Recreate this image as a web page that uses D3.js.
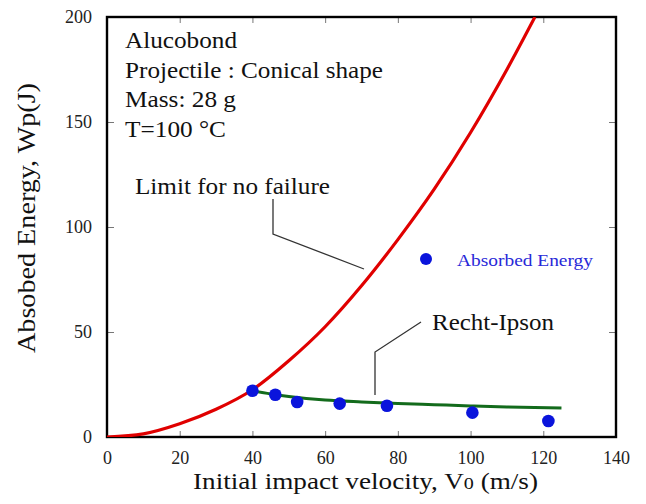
<!DOCTYPE html>
<html>
<head>
<meta charset="utf-8">
<script src="https://cdn.jsdelivr.net/npm/d3@7"></script>
<style>
  html, body { margin: 0; padding: 0; background: #fff; }
  svg { display: block; }
  svg text { font-family: "Liberation Serif", "Times New Roman", serif; }
</style>
</head>
<body>
<svg id="chart" width="646" height="504"></svg>
<script>
// Limit for no failure (red curve)
const limitV = [0, 10, 20, 30, 40, 50, 60, 70, 80, 90, 100, 110, 117.7];
const limitW = [0, 1.5, 6.3, 13.2, 22.5, 36.3, 52.5, 72, 94, 118, 145, 175, 200];

// Recht-Ipson prediction (green curve)
const rechtV = [40, 45, 50, 60, 70, 80, 90, 100, 110, 125];
const rechtW = [22, 20.5, 19.3, 17.6, 16.7, 16.0, 15.4, 14.8, 14.3, 13.8];

// Measured absorbed energy (blue points)
const pointV = [40.0, 46.3, 52.3, 64.0, 77.0, 100.5, 121.4];
const pointW = [22.0, 20.1, 16.7, 15.9, 14.9, 11.6, 7.6];

const xTicks = [0, 20, 40, 60, 80, 100, 120, 140];
const yTicks = [0, 50, 100, 150, 200];

const infoLines = ["Alucobond", "Projectile : Conical shape", "Mass: 28 g", "T=100 °C"];
const infoWidths = [112, 258, 111, 101];

const SERIF = "Liberation Serif, Times New Roman, serif";
const svg = d3.select("#chart");
const mLeft = 107, mRight = 616, mTop = 17, mBottom = 437;

const x = d3.scaleLinear().domain([0, 140]).range([mLeft, mRight]);
const y = d3.scaleLinear().domain([0, 200]).range([mBottom, mTop]);

function styleAxis(g) {
  g.select(".domain").remove();
  g.selectAll(".tick line").attr("stroke", "#777").attr("stroke-width", 1);
  g.selectAll(".tick text").attr("fill", "#222").attr("font-size", 18)
    .attr("font-family", SERIF);
}

// axes with inward ticks on all four sides
svg.append("g").attr("transform", `translate(0,${mBottom})`)
  .call(d3.axisBottom(x).tickValues(xTicks).tickSize(-6).tickPadding(14).tickFormat(d3.format("d")))
  .call(styleAxis);
svg.append("g").attr("transform", `translate(0,${mTop})`)
  .call(d3.axisTop(x).tickValues(xTicks).tickSize(-6).tickFormat(""))
  .call(styleAxis);
svg.append("g").attr("transform", `translate(${mLeft},0)`)
  .call(d3.axisLeft(y).tickValues(yTicks).tickSize(-7).tickPadding(15).tickFormat(d3.format("d")))
  .call(styleAxis);
svg.append("g").attr("transform", `translate(${mRight},0)`)
  .call(d3.axisRight(y).tickValues(yTicks).tickSize(-7).tickFormat(""))
  .call(styleAxis);

// plot frame
svg.append("rect")
  .attr("x", mLeft).attr("y", mTop)
  .attr("width", mRight - mLeft).attr("height", mBottom - mTop)
  .attr("fill", "none").attr("stroke", "#000").attr("stroke-width", 2.4);

svg.append("clipPath").attr("id", "plotClip")
  .append("rect").attr("x", mLeft).attr("y", mTop)
  .attr("width", mRight - mLeft).attr("height", mBottom - mTop);

const line = d3.line()
  .x(d => x(d[0])).y(d => y(d[1]))
  .curve(d3.curveMonotoneX);

const plot = svg.append("g").attr("clip-path", "url(#plotClip)");

plot.append("path")
  .datum(limitV.map((v, i) => [v, limitW[i]]))
  .attr("d", line)
  .attr("fill", "none").attr("stroke", "#e00000").attr("stroke-width", 3.2);

plot.append("path")
  .datum(rechtV.map((v, i) => [v, rechtW[i]]))
  .attr("d", line)
  .attr("fill", "none").attr("stroke", "#136b1c").attr("stroke-width", 3);

plot.selectAll("circle.pt")
  .data(pointV.map((v, i) => [v, pointW[i]]))
  .join("circle")
  .attr("class", "pt")
  .attr("cx", d => x(d[0])).attr("cy", d => y(d[1]))
  .attr("r", 6.3).attr("fill", "#0a14dc");

// legend
svg.append("circle").attr("cx", 426).attr("cy", 259).attr("r", 6).attr("fill", "#0a14dc");
svg.append("text").attr("x", 457).attr("y", 266)
  .attr("font-family", SERIF).attr("font-size", 17.5).attr("fill", "#2828d8")
  .attr("textLength", 136).attr("lengthAdjust", "spacingAndGlyphs")
  .text("Absorbed Energy");

// info block
svg.append("g").selectAll("text")
  .data(infoLines).join("text")
  .attr("x", 125).attr("y", (d, i) => 48.3 + i * 29.4)
  .attr("font-family", SERIF).attr("font-size", 23).attr("fill", "#111")
  .attr("textLength", (d, i) => infoWidths[i]).attr("lengthAdjust", "spacingAndGlyphs")
  .text(d => d);

// annotations with leader lines
svg.append("text").attr("x", 135).attr("y", 194)
  .attr("font-family", SERIF).attr("font-size", 23).attr("fill", "#111")
  .attr("textLength", 195).attr("lengthAdjust", "spacingAndGlyphs")
  .text("Limit for no failure");
svg.append("polyline")
  .attr("points", "273,199 273,234 364,269")
  .attr("fill", "none").attr("stroke", "#333").attr("stroke-width", 1.3);

svg.append("text").attr("x", 432).attr("y", 330)
  .attr("font-family", SERIF).attr("font-size", 24).attr("fill", "#111")
  .attr("textLength", 122).attr("lengthAdjust", "spacingAndGlyphs")
  .text("Recht-Ipson");
svg.append("polyline")
  .attr("points", "421,322 375,352 375,395")
  .attr("fill", "none").attr("stroke", "#333").attr("stroke-width", 1.3);

// axis titles
const xt = svg.append("text").attr("x", 193).attr("y", 489)
  .attr("font-family", SERIF).attr("font-size", 23).attr("fill", "#111")
  .attr("textLength", 345).attr("lengthAdjust", "spacingAndGlyphs");
xt.append("tspan").text("Initial impact velocity, V");
xt.append("tspan").attr("font-size", 17).text("0");
xt.append("tspan").text(" (m/s)");

svg.append("text")
  .attr("transform", "translate(35,353) rotate(-90)")
  .attr("font-family", SERIF).attr("font-size", 25).attr("fill", "#111")
  .attr("textLength", 270).attr("lengthAdjust", "spacingAndGlyphs")
  .text("Absobed Energy, Wp(J)");
</script>
</body>
</html>
